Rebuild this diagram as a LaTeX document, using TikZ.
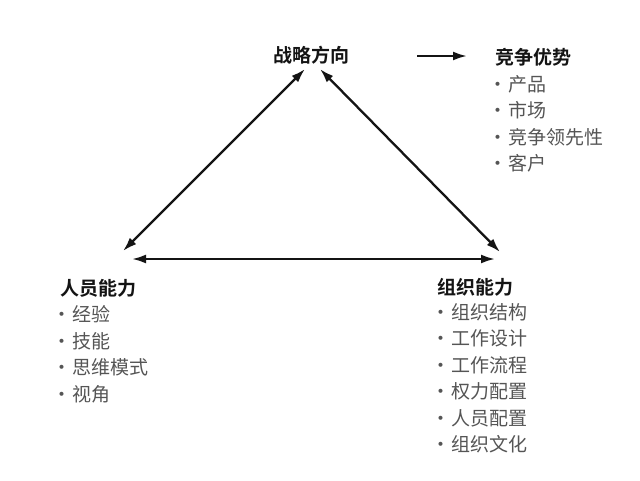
\documentclass[tikz,border=0pt]{standalone}
\usepackage{fontspec}
\usepackage{xcolor}
\usetikzlibrary{positioning,arrows.meta}
\newfontfamily\cjk{Noto Sans CJK SC}[BoldFont={* Bold}]
\definecolor{ink}{RGB}{20,20,20}
\definecolor{itemgray}{RGB}{85,85,85}
\newcommand{\pt}{\makebox[14pt][l]{\hspace{-6pt}·}}

\tikzset{
  head/.style={inner sep=0pt, font=\cjk\bfseries\fontsize{19}{22}\selectfont, text=ink},
  items/.style={inner sep=0pt, align=left, font=\cjk\fontsize{19}{26.5}\selectfont, text=itemgray},
  link/.style={line width=2.3pt, draw=ink, {Latex[length=14pt,width=9pt]}-{Latex[length=14pt,width=9pt]}},
  lead/.style={line width=2.3pt, draw=ink, -{Latex[length=14pt,width=9pt]}}
}

\begin{document}
\begin{tikzpicture}[x=1pt,y=-1pt]
  \useasboundingbox[fill=white] (0,0) rectangle (640,480);

  % corners of the triangle
  \node[head, anchor=west] (strategy) at (273,55) {战略方向};
  \node[head, anchor=west] (people) at (60,288) {人员能力};
  \node[head, anchor=west] (org) at (437,287) {组织能力};
  \node[items, below right=8pt and -2pt of people.south west] (peoplelist)
    {\pt 经验\\ \pt 技能\\ \pt 思维模式\\ \pt 视角};
  \node[items, below right=7pt and 0pt of org.south west] (orglist)
    {\pt 组织结构\\ \pt 工作设计\\ \pt 工作流程\\ \pt 权力配置\\ \pt 人员配置\\ \pt 组织文化};

  % result
  \node[head, anchor=west] (advantage) at (495,57) {竞争优势};
  \node[items, below right=9pt and -1pt of advantage.south west] (advlist)
    {\pt 产品\\ \pt 市场\\ \pt 竞争领先性\\ \pt 客户};

  \coordinate (top-l) at (305,69);
  \coordinate (top-r) at (320,69);
  \coordinate (left-t) at (123,251);
  \coordinate (left-b) at (132,259);
  \coordinate (right-t) at (500,252);
  \coordinate (right-b) at (495,259);
  \coordinate (go-from) at (417,56);
  \coordinate (go-to) at (467,56);

  \draw[link] (left-t) -- (top-l);
  \draw[link] (top-r) -- (right-t);
  \draw[link] (left-b) -- (right-b);
  \draw[lead] (go-from) -- (go-to);
\end{tikzpicture}
\end{document}
